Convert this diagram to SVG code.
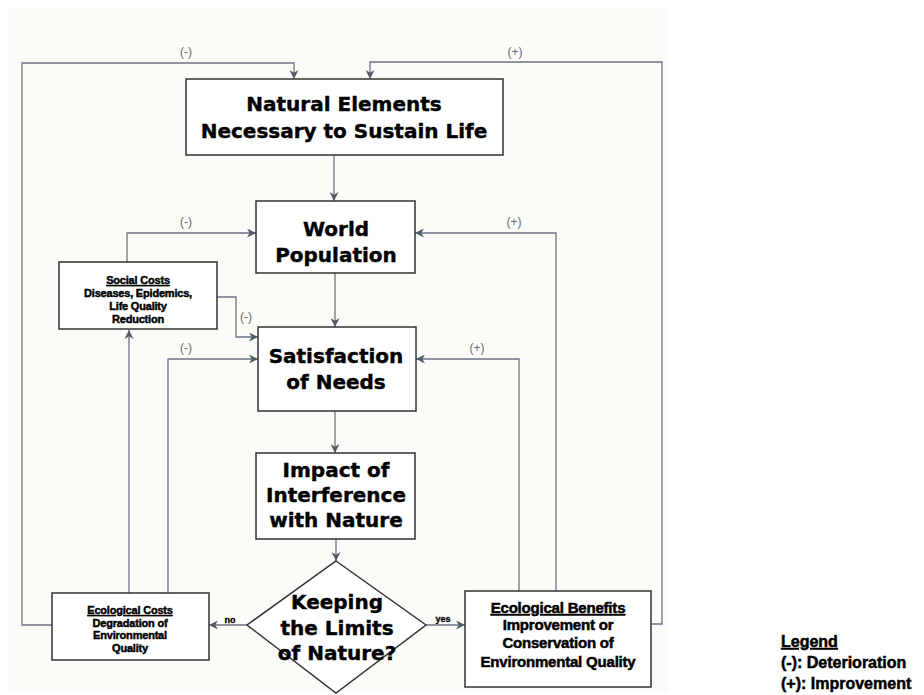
<svg xmlns="http://www.w3.org/2000/svg" width="924" height="695" viewBox="0 0 924 695">
  <style>
    .box { fill: #ffffff; stroke: #333333; stroke-width: 1.5; }
    .big { font-family: "DejaVu Sans", Verdana, sans-serif; font-weight: bold; font-size: 20px; fill: #000; stroke: #000; stroke-width: 0.4; text-anchor: middle; }
    .small { font-family: "Liberation Sans", Arial, sans-serif; font-weight: bold; font-size: 11px; fill: #000; stroke: #000; stroke-width: 0.45; text-anchor: middle; letter-spacing: -0.2px; }
    .mid { font-family: "Liberation Sans", Arial, sans-serif; font-weight: bold; font-size: 15px; fill: #000; stroke: #000; stroke-width: 0.5; text-anchor: middle; letter-spacing: -0.2px; }
    .sign { font-family: "Liberation Sans", Arial, sans-serif; font-size: 12px; fill: #666a70; text-anchor: middle; }
    .tag { font-family: "Liberation Sans", Arial, sans-serif; font-weight: bold; font-size: 9px; fill: #000; stroke: #000; stroke-width: 0.3; text-anchor: middle; }
    .legend { font-family: "Liberation Sans", Arial, sans-serif; font-weight: bold; font-size: 16px; fill: #000; stroke: #000; stroke-width: 0.5; }
    .conn { fill: none; stroke: #6e7386; stroke-width: 1.3; marker-end: url(#arrow); }
  </style>
  <defs>
    <marker id="arrow" viewBox="0 0 10 10" refX="10" refY="5" markerWidth="9" markerHeight="9" markerUnits="userSpaceOnUse" orient="auto">
      <path d="M0,0 L10,5 L0,10 L3,5 z" fill="#555a68"/>
    </marker>
  </defs>

  <!-- paper background -->
  <rect x="8" y="8" width="660" height="684" fill="#fbfbf7"/>

  <!-- connectors -->
  <g id="connectors">
    <line class="conn" x1="334" y1="155" x2="334" y2="201"/>
    <line class="conn" x1="335" y1="273" x2="335" y2="327"/>
    <line class="conn" x1="335" y1="411" x2="335" y2="453"/>
    <line class="conn" x1="336" y1="539" x2="336" y2="561"/>
    <line class="conn" x1="247" y1="625" x2="209" y2="625"/>
    <line class="conn" x1="426" y1="625" x2="465" y2="625"/>
    <polyline class="conn" points="52,625 22,625 22,63 294,63 294,79"/>
    <polyline class="conn" points="651,624 662,624 662,62 370,62 370,79"/>
    <polyline class="conn" points="127,262 127,233 256,233"/>
    <line class="conn" x1="129" y1="593" x2="129" y2="330"/>
    <polyline class="conn" points="168,593 168,359 258,359"/>
    <polyline class="conn" points="217,297 236,297 236,337 258,337"/>
    <polyline class="conn" points="519,591 519,359 416,359"/>
    <polyline class="conn" points="556,591 556,233 415,233"/>
    <text class="sign" x="186" y="56">(-)</text>
    <text class="sign" x="515" y="56">(+)</text>
    <text class="sign" x="186" y="226">(-)</text>
    <text class="sign" x="514" y="226">(+)</text>
    <text class="sign" x="246" y="321">(-)</text>
    <text class="sign" x="186" y="352">(-)</text>
    <text class="sign" x="477" y="352">(+)</text>
    <text class="tag" x="230" y="623">no</text>
    <text class="tag" x="443" y="622">yes</text>
  </g>

  <g id="natural-elements">
    <rect class="box" x="186" y="79" width="317" height="76"/>
    <text class="big" x="344" y="111">Natural Elements</text>
    <text class="big" x="344" y="138">Necessary to Sustain Life</text>
  </g>

  <g id="world-population">
    <rect class="box" x="256" y="201" width="159" height="72"/>
    <text class="big" x="336" y="236">World</text>
    <text class="big" x="336" y="262">Population</text>
  </g>

  <g id="satisfaction-of-needs">
    <rect class="box" x="258" y="327" width="158" height="84"/>
    <text class="big" x="336" y="363">Satisfaction</text>
    <text class="big" x="336" y="389">of Needs</text>
  </g>

  <g id="impact-of-interference">
    <rect class="box" x="256" y="453" width="159" height="86"/>
    <text class="big" x="336" y="477">Impact of</text>
    <text class="big" x="336" y="502">Interference</text>
    <text class="big" x="336" y="527">with Nature</text>
  </g>

  <g id="keeping-limits">
    <polygon class="box" points="336,561 426,625 336,693 247,625"/>
    <text class="big" x="337" y="609">Keeping</text>
    <text class="big" x="337" y="635">the Limits</text>
    <text class="big" x="337" y="660">of Nature?</text>
  </g>

  <g id="social-costs">
    <rect class="box" x="59" y="262" width="158" height="67"/>
    <text class="small" x="138" y="284" text-decoration="underline">Social Costs</text>
    <text class="small" x="138" y="297">Diseases, Epidemics,</text>
    <text class="small" x="138" y="310">Life Quality</text>
    <text class="small" x="138" y="323">Reduction</text>
  </g>

  <g id="ecological-costs">
    <rect class="box" x="52" y="593" width="157" height="67"/>
    <text class="small" x="130" y="614" text-decoration="underline">Ecological Costs</text>
    <text class="small" x="130" y="627">Degradation of</text>
    <text class="small" x="130" y="639">Environmental</text>
    <text class="small" x="130" y="652">Quality</text>
  </g>

  <g id="ecological-benefits">
    <rect class="box" x="465" y="591" width="186" height="96"/>
    <text class="mid" x="558" y="613" text-decoration="underline">Ecological Benefits</text>
    <text class="mid" x="558" y="630">Improvement or</text>
    <text class="mid" x="558" y="648">Conservation of</text>
    <text class="mid" x="558" y="667">Environmental Quality</text>
  </g>

  <g id="legend">
    <text class="legend" x="781" y="647" text-decoration="underline">Legend</text>
    <text class="legend" x="781" y="668">(-):  Deterioration</text>
    <text class="legend" x="781" y="689">(+): Improvement</text>
  </g>
</svg>
